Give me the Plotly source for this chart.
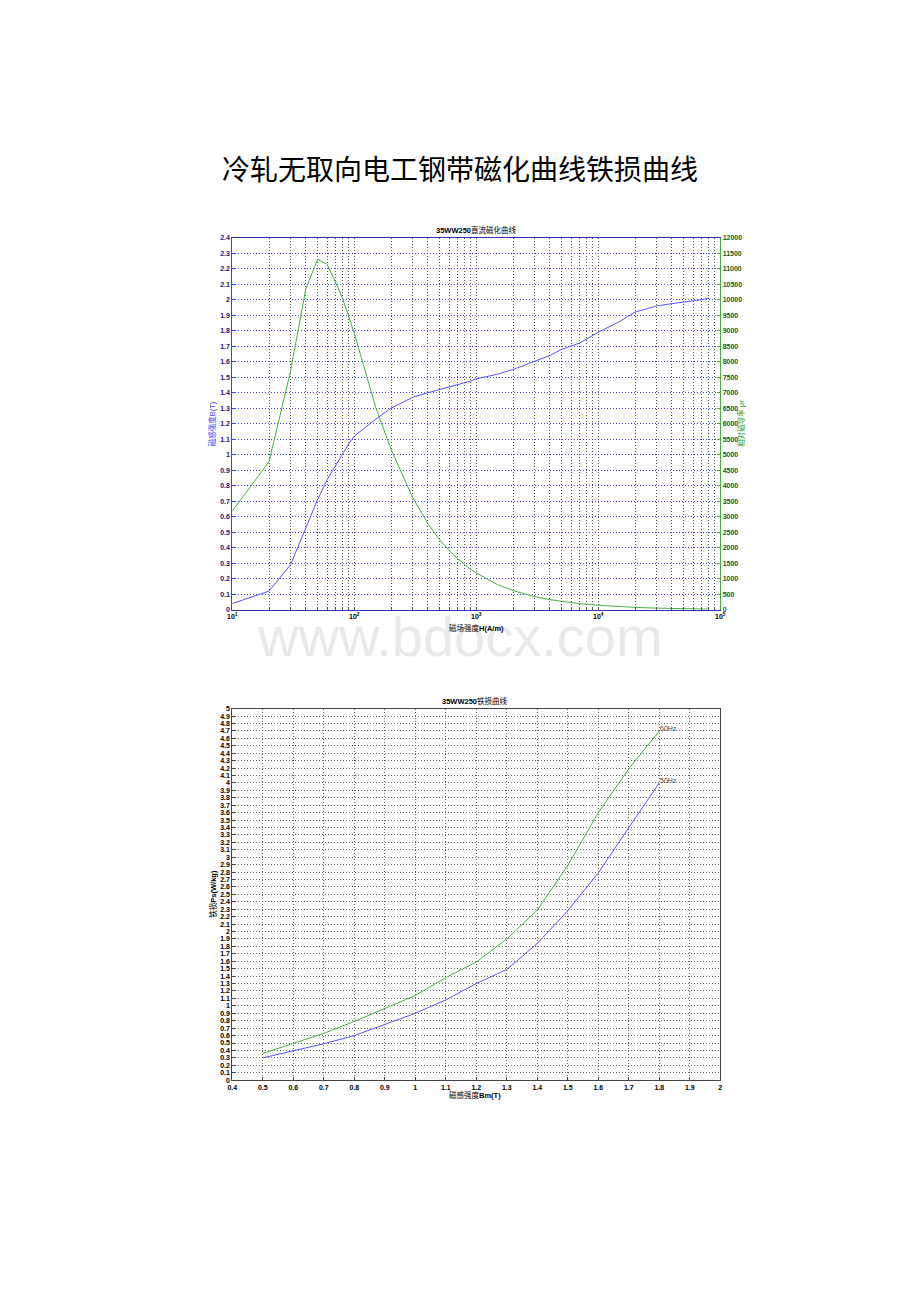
import plotly.graph_objects as go

# ---------------- data: DC magnetisation curve (35WW250) ----------------
H_VALUES = [10, 20, 30, 40, 50, 60, 70, 80, 90, 100, 150, 200, 300, 400, 500,
            600, 700, 800, 900, 1000, 1500, 2000, 3000, 4000, 5000, 7000, 10000,
            15000, 20000, 30000, 40000, 50000, 60000, 70000, 80000]
B_VALUES = [0.04, 0.12, 0.29, 0.52, 0.71, 0.84, 0.93, 1.01, 1.07, 1.12, 1.23,
            1.30, 1.37, 1.40, 1.42, 1.44, 1.455, 1.465, 1.475, 1.49, 1.52, 1.55,
            1.60, 1.64, 1.68, 1.72, 1.79, 1.86, 1.92, 1.96, 1.975, 1.985, 1.99,
            2.00, 2.01]
MU_R_VALUES = [3183, 4775, 7692, 10345, 11300, 11141, 10572, 10047, 9461, 8913,
               6525, 5173, 3634, 2785, 2260, 1910, 1654, 1457, 1304, 1186, 806,
               617, 424, 326, 267, 196, 142, 99, 76, 52, 39, 32, 26, 23, 20]

# ---------------- data: core loss curves (35WW250) ----------------
BM_VALUES = [0.5, 0.6, 0.7, 0.8, 0.9, 1.0, 1.1, 1.2, 1.3, 1.4, 1.5, 1.6, 1.7, 1.8]
P_50HZ = [0.30, 0.39, 0.49, 0.60, 0.75, 0.90, 1.08, 1.30, 1.49, 1.84, 2.28, 2.79, 3.40, 4.00]
P_60HZ = [0.36, 0.49, 0.63, 0.79, 0.96, 1.14, 1.38, 1.59, 1.90, 2.29, 2.89, 3.60, 4.19, 4.70]

# ---------------- tick labels ----------------
DECADES = [1, 2, 3, 4, 5]
H_TICKVALS = [m * 10 ** d for d in DECADES[:-1] for m in range(1, 10)] + [10 ** DECADES[-1]]
H_TICKTEXT = [("<b>10<sup>%d</sup></b>" % d) if m == 1 else " " for d in DECADES[:-1] for m in range(1, 10)] \
             + ["<b>10<sup>%d</sup></b>" % DECADES[-1]]

PAGE_TITLE = "冷轧无取向电工钢带磁化曲线铁损曲线"
TOP_TITLE = "<b>35WW250</b>直流磁化曲线"
TOP_XTITLE = "磁场强度<b>H(A/m)</b>"
TOP_YTITLE_L = "磁感强度B(T)"
TOP_YTITLE_R = "相对磁导率 μr"
BOT_TITLE = "<b>35WW250</b>铁损曲线"
BOT_XTITLE = "磁感强度<b>Bm(T)</b>"
BOT_YTITLE = "铁损<b>Ps(W/kg)</b>"
LABEL_50 = "50Hz"
LABEL_60 = "60Hz"
WATERMARK = "www.bdocx.com"

# page is shown with an 8px body margin: size figure so it fits the window
OFF = 8
W, HGT = 920 - 2 * OFF, 1302 - 2 * OFF
def px(x):
    return (x - OFF) / W
def py(y):
    return 1 - (y - OFF) / HGT

BLUE = "rgb(85,85,255)"
GREEN = "rgb(70,175,70)"
FONT = "Liberation Sans, Arial, Noto Sans CJK SC"
CJK = "Noto Sans CJK SC"
DOTS = "1px,2px"

fig = go.Figure()
fig.add_trace(go.Scatter(x=H_VALUES, y=B_VALUES, mode="lines", xaxis="x", yaxis="y",
                         line=dict(color=BLUE, width=1)))
fig.add_trace(go.Scatter(x=H_VALUES, y=MU_R_VALUES, mode="lines", xaxis="x", yaxis="y2",
                         line=dict(color=GREEN, width=1)))
fig.add_trace(go.Scatter(x=BM_VALUES, y=P_50HZ, mode="lines", xaxis="x2", yaxis="y3",
                         line=dict(color=BLUE, width=1)))
fig.add_trace(go.Scatter(x=BM_VALUES, y=P_60HZ, mode="lines", xaxis="x2", yaxis="y3",
                         line=dict(color=GREEN, width=1)))

tickfont = dict(family=FONT, size=7, color="black", weight="bold")

fig.update_layout(
    width=W, height=HGT, margin=dict(l=0, r=0, t=0, b=0),
    paper_bgcolor="white", plot_bgcolor="white", showlegend=False,
    xaxis=dict(type="log", range=[1, 5], domain=[px(230), px(724)], anchor="y",
               tickmode="array", tickvals=H_TICKVALS, ticktext=H_TICKTEXT, tickangle=0,
               showgrid=True, gridcolor="#555555", griddash=DOTS, gridwidth=1,
               showline=True, linecolor="rgb(50,50,170)", linewidth=1, mirror=True,
               ticks="inside", ticklen=3, tickcolor="#555555", zeroline=False,
               tickfont=tickfont),
    yaxis=dict(range=[0, 2.4], dtick=0.1, domain=[py(609), py(235)], anchor="x",
               showgrid=True, gridcolor="rgb(70,70,255)", griddash=DOTS, gridwidth=1,
               showline=True, linecolor="rgb(60,60,255)", linewidth=1,
               ticks="inside", ticklen=3, tickcolor="rgb(60,60,255)", zeroline=False,
               tickfont=dict(family=FONT, size=7, color="rgb(20,20,140)", weight="bold")),
    yaxis2=dict(range=[0, 12000], dtick=500, overlaying="y", side="right", anchor="x",
                showgrid=False, showline=True, linecolor=GREEN, linewidth=1,
                ticks="inside", ticklen=3, tickcolor=GREEN, zeroline=False,
                tickformat="d",
                tickfont=dict(family=FONT, size=7, color="rgb(20,90,20)", weight="bold")),
    xaxis2=dict(range=[0.4, 2.0], dtick=0.1, domain=[px(230), px(724)], anchor="y3",
                showgrid=True, gridcolor="#666666", griddash=DOTS, gridwidth=1,
                showline=True, linecolor="#444444", linewidth=1, mirror=True,
                ticks="inside", ticklen=3, tickcolor="#444444", zeroline=False,
                tickangle=0, tickfont=tickfont),
    yaxis3=dict(range=[0, 5], dtick=0.1, domain=[py(1082), py(708.5)], anchor="x2",
                showgrid=True, gridcolor="#666666", griddash=DOTS, gridwidth=1,
                showline=True, linecolor="#444444", linewidth=1, mirror=True,
                ticks="inside", ticklen=3, tickcolor="#444444", zeroline=False,
                tickfont=tickfont),
)

def note(text, x, y, size=7.5, color="black", angle=0, family=FONT):
    return dict(text=text, x=px(x), y=py(y), xref="paper", yref="paper",
                xanchor="center", yanchor="middle", showarrow=False, textangle=angle,
                font=dict(family=family, size=size, color=color))

ann = [
    note(WATERMARK, 460, 636, size=56, color="#e9e9e9", family="Liberation Sans, Arial"),
    note(PAGE_TITLE, 460, 165, size=28, family=CJK),
    note(TOP_TITLE, 477, 227),
    note(TOP_XTITLE, 477, 627),
    note(TOP_YTITLE_L, 209, 422, color="rgb(60,60,255)", angle=-90),
    note(TOP_YTITLE_R, 745, 422, color="rgb(50,160,50)", angle=-90),
    note(BOT_TITLE, 476, 701),
    note(BOT_XTITLE, 476, 1097),
    note(BOT_YTITLE, 211, 895, angle=-90),
]
ann.append(dict(text=LABEL_60, x=BM_VALUES[-1], y=P_60HZ[-1], xref="x2", yref="y3",
                xanchor="left", yanchor="bottom", showarrow=False, xshift=-1, yshift=-3,
                font=dict(family=FONT, size=7, color="#444444")))
ann.append(dict(text=LABEL_50, x=BM_VALUES[-1], y=P_50HZ[-1], xref="x2", yref="y3",
                xanchor="left", yanchor="bottom", showarrow=False, xshift=-1, yshift=-3,
                font=dict(family=FONT, size=7, color="#444444")))
fig.update_layout(annotations=ann)

fig.write_html("out.html")
